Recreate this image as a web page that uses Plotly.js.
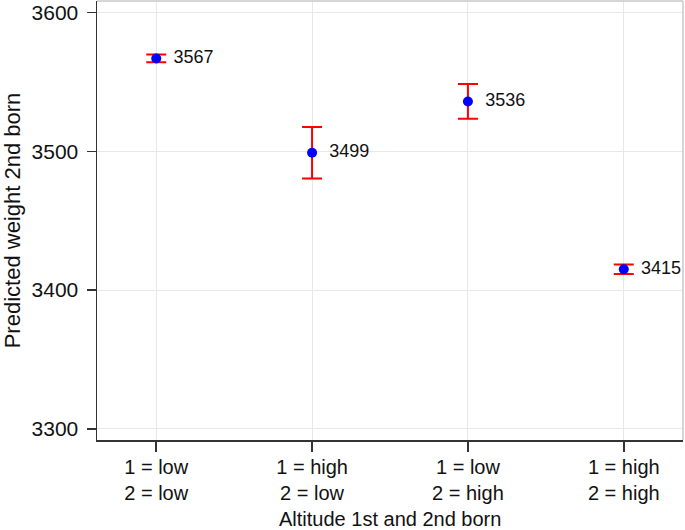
<!DOCTYPE html>
<html>
<head>
<meta charset="utf-8">
<script src="https://cdn.plot.ly/plotly-3.0.1.min.js"></script>
<style>html,body{margin:0;padding:0;background:#fff;}#chart{width:685px;height:530px;}</style>
</head>
<body>
<div id="chart"></div>
<script>
const categories = ["1 = low<br>2 = low", "1 = high<br>2 = low", "1 = low<br>2 = high", "1 = high<br>2 = high"];
const predicted = [3567, 3499, 3536, 3415];
const ciHalf = [2.8, 18.5, 12.5, 3.5];
const valueLabels = ["3567", "3499", "3536", "3415"];
const yTicks = [3300, 3400, 3500, 3600];
const xTitle = "Altitude 1st and 2nd born";
const yTitle = "Predicted weight 2nd born";

const xIdx = categories.map((_, i) => i);

const trace = {
  x: xIdx,
  y: predicted,
  type: "scatter",
  mode: "markers+text",
  text: valueLabels.map(s => "  " + s),
  textposition: "middle right",
  textfont: {family: "Liberation Sans, Arial, sans-serif", size: 18, color: "#111"},
  marker: {color: "#0000ff", size: 10},
  error_y: {type: "data", array: ciHalf, visible: true, color: "#ff0000", thickness: 2, width: 10},
  cliponaxis: false,
  hoverinfo: "skip"
};

const layout = {
  width: 685, height: 530,
  margin: {l: 97, r: 2, t: 1, b: 90},
  paper_bgcolor: "#fff", plot_bgcolor: "#fff",
  showlegend: false,
  font: {family: "Liberation Sans, Arial, sans-serif", size: 20, color: "#111"},
  xaxis: {
    range: [-0.38, 3.38],
    tickmode: "array", tickvals: xIdx, ticktext: categories,
    ticks: "outside", ticklen: 10, tickwidth: 1.5, tickcolor: "#333",
    showgrid: true, gridcolor: "#e8e8e8", gridwidth: 1,
    showline: true, linecolor: "#333", linewidth: 1.5,
    zeroline: false,
    tickfont: {size: 20},
    ticklabelstandoff: -2
  },
  yaxis: {
    range: [3291.9, 3608.4],
    tickmode: "array", tickvals: yTicks,
    ticks: "outside", ticklen: 9, tickwidth: 1.5, tickcolor: "#333",
    showgrid: true, gridcolor: "#e8e8e8", gridwidth: 1,
    showline: true, linecolor: "#333", linewidth: 1.5,
    zeroline: false,
    tickfont: {size: 21},
    ticklabelstandoff: 4,
    title: {text: yTitle, font: {size: 22}, standoff: 7}
  },
  annotations: [
    {text: xTitle, xref: "paper", yref: "paper", x: 0.5, y: 0, xanchor: "center", yanchor: "middle",
     yshift: -79, showarrow: false, font: {size: 20, color: "#111"}}
  ],
  shapes: [
    {type: "line", xref: "paper", yref: "paper", x0: 0, x1: 1, y0: 1, y1: 1, line: {color: "#c8c8c8", width: 1.5}},
    {type: "line", xref: "paper", yref: "paper", x0: 1, x1: 1, y0: 0, y1: 1, line: {color: "#c8c8c8", width: 1.5}}
  ]
};

Plotly.newPlot("chart", [trace], layout, {displayModeBar: false, staticPlot: true});
</script>
</body>
</html>
